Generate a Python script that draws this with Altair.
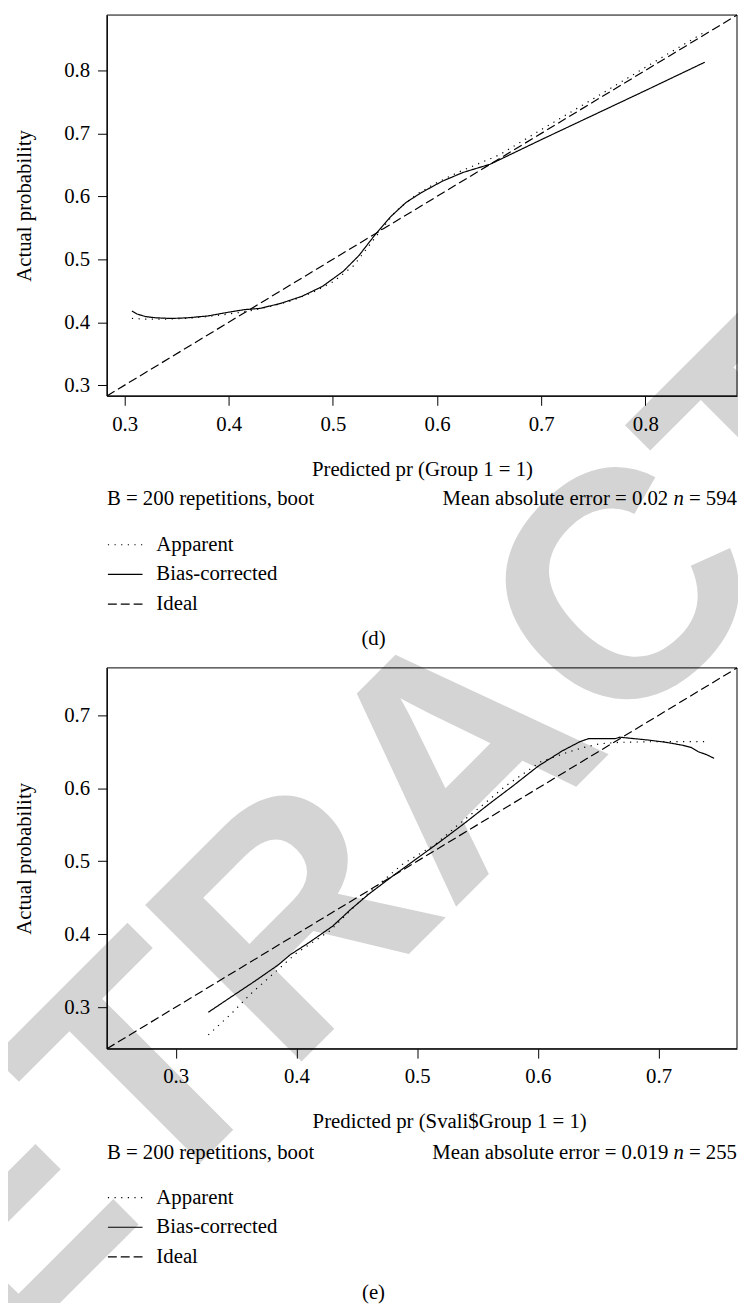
import altair as alt
import pandas as pd

# ---------------- data ----------------
SERIES = ["Apparent", "Bias-corrected", "Ideal"]
DASHES = [[1.2, 5.5], [1, 0], [9, 4]]
Y_TITLE = "Actual probability"
WATERMARK = "RETRACTED"

# panel (d)
d_domain = [0.283, 0.888]
d_ticks = [0.3, 0.4, 0.5, 0.6, 0.7, 0.8]
d_app_x = [0.307, 0.320, 0.340, 0.360, 0.380, 0.400, 0.420, 0.440, 0.460, 0.480,
           0.500, 0.520, 0.540, 0.560, 0.580, 0.600, 0.620, 0.640, 0.660, 0.700,
           0.750, 0.800, 0.856]
d_app_y = [0.406, 0.405, 0.405, 0.406, 0.409, 0.413, 0.418, 0.425, 0.434, 0.447,
           0.464, 0.490, 0.533, 0.576, 0.603, 0.622, 0.638, 0.652, 0.666, 0.706,
           0.755, 0.805, 0.860]
d_bias_x = [0.307, 0.312, 0.320, 0.330, 0.345, 0.360, 0.380, 0.400, 0.415, 0.430,
            0.450, 0.470, 0.490, 0.510, 0.525, 0.540, 0.555, 0.570, 0.585, 0.605,
            0.625, 0.651, 0.700, 0.750, 0.800, 0.857]
d_bias_y = [0.418, 0.413, 0.409, 0.407, 0.406, 0.407, 0.410, 0.416, 0.420, 0.422,
            0.430, 0.441, 0.457, 0.481, 0.506, 0.538, 0.567, 0.590, 0.606, 0.624,
            0.638, 0.651, 0.690, 0.729, 0.768, 0.813]
d_xtitle = "Predicted pr (Group 1 = 1)"
d_notes = ["B = 200 repetitions, boot", "Mean absolute error = 0.02", "n", "= 594"]
d_caption = "(d)"

# panel (e)
e_domain = [0.243, 0.765]
e_ticks = [0.3, 0.4, 0.5, 0.6, 0.7]
e_app_x = [0.327, 0.346, 0.362, 0.381, 0.400, 0.428, 0.450, 0.460, 0.488, 0.515,
           0.534, 0.555, 0.574, 0.602, 0.624, 0.638, 0.651, 0.668, 0.700, 0.742]
e_app_y = [0.262, 0.291, 0.318, 0.346, 0.374, 0.405, 0.441, 0.457, 0.496, 0.523,
           0.550, 0.578, 0.604, 0.636, 0.649, 0.656, 0.661, 0.663, 0.664, 0.664]
e_bias_x = [0.327, 0.345, 0.365, 0.385, 0.395, 0.410, 0.430, 0.445, 0.460, 0.480,
            0.500, 0.520, 0.540, 0.560, 0.580, 0.600, 0.620, 0.635, 0.642, 0.655,
            0.664, 0.668, 0.680, 0.692, 0.706, 0.720, 0.727, 0.733, 0.740, 0.746]
e_bias_y = [0.293, 0.313, 0.335, 0.358, 0.372, 0.388, 0.411, 0.434, 0.455, 0.480,
            0.504, 0.528, 0.553, 0.579, 0.604, 0.630, 0.651, 0.664, 0.668, 0.668,
            0.668, 0.670, 0.668, 0.666, 0.663, 0.659, 0.656, 0.650, 0.646, 0.641]
e_xtitle = "Predicted pr (Svali$Group 1 = 1)"
e_notes = ["B = 200 repetitions, boot", "Mean absolute error = 0.019", "n", "= 255"]
e_caption = "(e)"

# ---------------- layout ----------------
W, H = 738, 1302
FONT = "Liberation Serif"
FS = 21
PLOT_L, PLOT_R = 100, 737
PANEL_H = 385


def curves(app_x, app_y, bias_x, bias_y, dom):
    rows = []
    for name, xs, ys in [("Ideal", dom, dom), ("Apparent", app_x, app_y),
                         ("Bias-corrected", bias_x, bias_y)]:
        for i, (a, b) in enumerate(zip(xs, ys)):
            rows.append({"x": a, "y": b, "series": name, "i": i})
    return pd.DataFrame(rows)


def panel(df, dom, ticks, top, xtitle, title_x, legend_y):
    bottom = top + PANEL_H
    xs = alt.Scale(domain=dom, range=[PLOT_L, PLOT_R], nice=False, zero=False)
    ys = alt.Scale(domain=dom, range=[bottom, top], nice=False, zero=False)
    common = dict(values=ticks, format=".1f", grid=False, tickSize=9.5,
                  tickColor="black", tickWidth=1, domainColor="black", domainWidth=1,
                  labelColor="black", labelFont=FONT, labelFontSize=FS,
                  titleFont=FONT, titleFontSize=FS, titleFontWeight="normal",
                  titleColor="black", zindex=1, labelPadding=8)
    xaxis = alt.Axis(orient="bottom", offset=bottom - H, title=xtitle, titleX=title_x,
                     titleY=80, titleAlign="center", titleBaseline="alphabetic", **common)
    yaxis = alt.Axis(orient="left", offset=-PLOT_L, title=Y_TITLE, titleX=-77.5,
                     titleAngle=270, titleAlign="center", titleBaseline="alphabetic",
                     **common)
    legend = alt.Legend(orient="none", legendX=PLOT_L, legendY=legend_y, title=None,
                        symbolType="stroke", symbolSize=1225, symbolStrokeWidth=1.2,
                        symbolStrokeColor="black", labelFont=FONT, labelFontSize=FS,
                        labelColor="black", labelOffset=13, rowPadding=1, padding=0,
                        zindex=1)
    lines = alt.Chart(df).mark_line(color="black", strokeWidth=1.2).encode(
        x=alt.X("x:Q", scale=xs, axis=xaxis),
        y=alt.Y("y:Q", scale=ys, axis=yaxis),
        strokeDash=alt.StrokeDash("series:N",
                                  scale=alt.Scale(domain=SERIES, range=DASHES),
                                  legend=legend),
        order="i:Q",
    )
    frame_df = pd.DataFrame({"lo": [dom[0]], "hi": [dom[1]]})
    frame = alt.Chart(frame_df).mark_rect(filled=False, stroke="black", strokeWidth=1).encode(
        x=alt.X("lo:Q", scale=xs, axis=xaxis), x2="hi:Q",
        y=alt.Y("lo:Q", scale=ys, axis=yaxis), y2="hi:Q",
    )
    return alt.layer(lines, frame)


def label(txt, x, y, align="left", style="normal"):
    return alt.Chart(pd.DataFrame({"t": [txt]})).mark_text(
        align=align, baseline="alphabetic", font=FONT, fontSize=FS,
        fontStyle=style, color="black"
    ).encode(x=alt.value(x), y=alt.value(y), text="t:N")


def notes(lines, caption, base):
    return [
        label(lines[0], PLOT_L, base),
        label(lines[1], 667.5, base, align="right"),
        label(lines[2], 678, base, align="center", style="italic"),
        label(lines[3], PLOT_R, base, align="right"),
        label(caption, 369.5, base + 142, align="center"),
    ]


wm = alt.Chart(pd.DataFrame({"t": [WATERMARK]})).mark_text(
    font="Liberation Sans", fontWeight="bold", fontSize=325, color="#d4d4d4",
    angle=315, align="center", baseline="middle", clip=True
).encode(x=alt.value(461), y=alt.value(755), text="t:N")

panel_d = panel(curves(d_app_x, d_app_y, d_bias_x, d_bias_y, d_domain),
                d_domain, d_ticks, 0, d_xtitle, 418.5, 517)
panel_e = panel(curves(e_app_x, e_app_y, e_bias_x, e_bias_y, e_domain),
                e_domain, e_ticks, 660, e_xtitle, 446, 1177)

texts = notes(d_notes, d_caption, 495) + notes(e_notes, e_caption, 1156)

chart = alt.layer(wm, panel_d, panel_e, *texts).resolve_scale(
    x="independent", y="independent", strokeDash="independent"
).properties(
    width=W, height=H, padding=0,
    autosize=alt.AutoSizeParams(type="none"),
    background="white",
).configure_view(strokeWidth=0)

chart.save("out.html", embed_options={"renderer": "svg", "actions": False})
